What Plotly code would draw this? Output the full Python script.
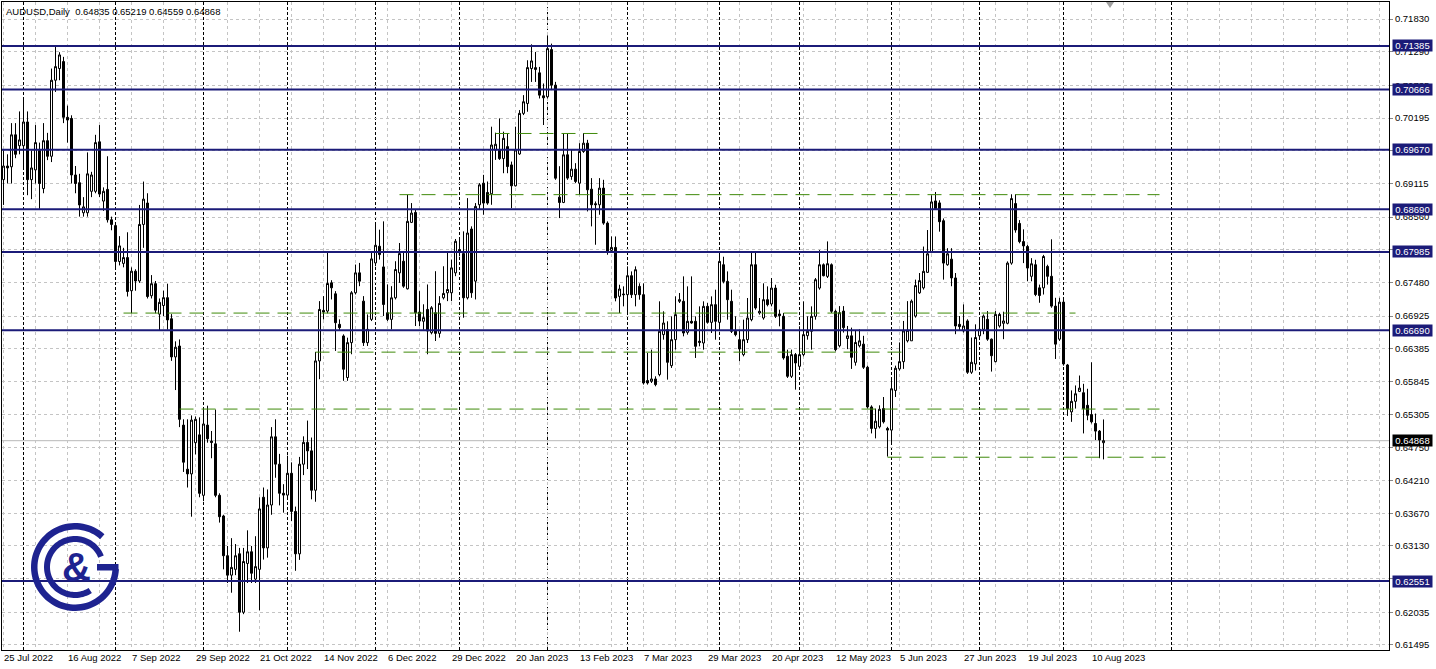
import numpy as np
import plotly.graph_objects as go

# ---------------- data ----------------
title_text = "AUDUSD,Daily\u00a0\u00a00.64835 0.65219 0.64559 0.64868"

date_labels = ["25 Jul 2022", "16 Aug 2022", "7 Sep 2022", "29 Sep 2022", "21 Oct 2022",
               "14 Nov 2022", "6 Dec 2022", "29 Dec 2022", "20 Jan 2023", "13 Feb 2023",
               "7 Mar 2023", "29 Mar 2023", "20 Apr 2023", "12 May 2023", "5 Jun 2023",
               "27 Jun 2023", "19 Jul 2023", "10 Aug 2023"]
date_label_bar = [0, 16, 32, 48, 64, 80, 96, 112, 128, 144, 160, 176, 192, 208, 224, 240, 256, 272]
month_start_bar = [5, 28, 50, 71, 93, 114, 136, 156, 179, 199, 222, 244, 265, 292]

opens = [
    0.69178, 0.69403, 0.69390, 0.69918, 0.69738, 0.69738, 0.70130, 0.69178, 0.69339, 0.69660,
    0.69030, 0.69821, 0.69564, 0.70819, 0.71012, 0.71127, 0.70207, 0.70188, 0.69255, 0.69127,
    0.68631, 0.68631, 0.68985, 0.68985, 0.69802, 0.68824, 0.69017, 0.68515, 0.68419, 0.67827,
    0.67795, 0.67891, 0.67344, 0.67666, 0.67505, 0.68438, 0.68792, 0.67261, 0.67460, 0.66958,
    0.67100, 0.67229, 0.66881, 0.66251, 0.66431, 0.65125, 0.64397, 0.64320, 0.64835, 0.64964,
    0.63966, 0.65125, 0.64860, 0.64816, 0.63966, 0.63625, 0.62969, 0.62648, 0.62744, 0.63001,
    0.62036, 0.62841, 0.63034, 0.62583, 0.62744, 0.63934, 0.63098, 0.63806, 0.64932, 0.64480,
    0.64000, 0.63970, 0.64330, 0.63700, 0.63000, 0.64480, 0.64840, 0.64700, 0.64050, 0.66185,
    0.67019, 0.67008, 0.67474, 0.67293, 0.66789, 0.66597, 0.65911, 0.66487, 0.67310, 0.67639,
    0.67172, 0.66487, 0.66871, 0.67803, 0.68078, 0.67737, 0.66980, 0.66871, 0.67227, 0.67639,
    0.67831, 0.67375, 0.68472, 0.68637, 0.66991, 0.66840, 0.67035, 0.66651, 0.66980, 0.66640,
    0.67227, 0.67310, 0.67310, 0.67639, 0.68023, 0.67957, 0.67227, 0.68363, 0.67502, 0.68763,
    0.69120, 0.68966, 0.68944, 0.69668, 0.69668, 0.69525, 0.69723, 0.69421, 0.69076, 0.69602,
    0.70272, 0.70436, 0.71012, 0.70996, 0.70941, 0.70562, 0.70546, 0.71325, 0.70738, 0.68889,
    0.68801, 0.69588, 0.69230, 0.69351, 0.69120, 0.69643, 0.69780, 0.69021, 0.68780, 0.68763,
    0.69038, 0.68460, 0.68010, 0.68059, 0.67251, 0.67290, 0.67279, 0.67592, 0.67279, 0.67416,
    0.67279, 0.65860, 0.65849, 0.65887, 0.65959, 0.66619, 0.66701, 0.66107, 0.66536, 0.67169,
    0.67169, 0.66657, 0.66839, 0.66839, 0.66509, 0.66481, 0.67086, 0.66822, 0.67114, 0.66822,
    0.67773, 0.67498, 0.67169, 0.66674, 0.66536, 0.66289, 0.66536, 0.66866, 0.67773, 0.66976,
    0.66894, 0.67196, 0.67125, 0.67388, 0.66960, 0.66921, 0.66261, 0.65931, 0.66289, 0.66096,
    0.66289, 0.66602, 0.66674, 0.66921, 0.67388, 0.67773, 0.67581, 0.67773, 0.67004, 0.66435,
    0.67008, 0.66555, 0.66599, 0.66162, 0.66435, 0.66462, 0.66080, 0.65425, 0.65070, 0.65097,
    0.65398, 0.65070, 0.65043, 0.65698, 0.66053, 0.66173, 0.66517, 0.66517, 0.66926, 0.67309,
    0.67391, 0.67647, 0.67975, 0.68826, 0.68794, 0.68499, 0.67773, 0.67865, 0.67555, 0.66789,
    0.66681, 0.66845, 0.65998, 0.66135, 0.66599, 0.66707, 0.66872, 0.66544, 0.66173, 0.66762,
    0.66806, 0.66806, 0.67800, 0.68783, 0.68455, 0.68155, 0.68073, 0.67582, 0.67773, 0.67391,
    0.67391, 0.67745, 0.67582, 0.67090, 0.66544, 0.67156, 0.66118, 0.65343, 0.65518, 0.65682,
    0.65660, 0.65452, 0.65299, 0.65152, 0.65026, 0.64835]

highs = [
    0.69660, 0.69596, 0.70111, 0.70111, 0.70304, 0.70497, 0.70304, 0.69660, 0.70079, 0.69789,
    0.70111, 0.69950, 0.71012, 0.71385, 0.71282, 0.71205, 0.70400, 0.70240, 0.69403, 0.69274,
    0.68889, 0.69628, 0.69307, 0.69918, 0.70079, 0.69050, 0.69564, 0.68567, 0.68438, 0.68245,
    0.68052, 0.68309, 0.67730, 0.67698, 0.68760, 0.69146, 0.68953, 0.67602, 0.67505, 0.67216,
    0.67344, 0.67460, 0.66958, 0.66508, 0.66540, 0.65221, 0.65221, 0.65285, 0.65266, 0.65253,
    0.65382, 0.65446, 0.65028, 0.65382, 0.63999, 0.63645, 0.63130, 0.63259, 0.63162, 0.63098,
    0.63098, 0.63388, 0.63130, 0.63291, 0.63934, 0.64095, 0.64063, 0.65092, 0.65221, 0.64650,
    0.64150, 0.64620, 0.64510, 0.63780, 0.64600, 0.64940, 0.65200, 0.64920, 0.66333, 0.67172,
    0.67255, 0.67979, 0.67518, 0.67337, 0.66871, 0.66624, 0.66569, 0.67337, 0.67776, 0.67803,
    0.67255, 0.66953, 0.67995, 0.68434, 0.68352, 0.68489, 0.67447, 0.67419, 0.67831, 0.68132,
    0.67995, 0.68928, 0.68791, 0.68681, 0.67337, 0.67120, 0.67447, 0.67090, 0.67666, 0.67255,
    0.67748, 0.67995, 0.67858, 0.68198, 0.68187, 0.68324, 0.68873, 0.68407, 0.68791, 0.69120,
    0.69257, 0.69147, 0.70052, 0.69953, 0.70189, 0.69970, 0.69942, 0.69476, 0.70052, 0.70326,
    0.70573, 0.71149, 0.71412, 0.71286, 0.71039, 0.70765, 0.71560, 0.71423, 0.70792, 0.69400,
    0.69945, 0.69945, 0.69670, 0.69450, 0.69780, 0.69945, 0.69835, 0.69203, 0.68818, 0.69203,
    0.69175, 0.68489, 0.68240, 0.68240, 0.67443, 0.67416, 0.67746, 0.67663, 0.67746, 0.67466,
    0.67466, 0.66316, 0.66371, 0.65931, 0.67169, 0.67004, 0.66839, 0.66921, 0.67251, 0.67306,
    0.67581, 0.67416, 0.67581, 0.66921, 0.67086, 0.67169, 0.67141, 0.67251, 0.67361, 0.67938,
    0.67905, 0.67663, 0.67361, 0.66921, 0.66701, 0.66866, 0.67224, 0.67988, 0.67988, 0.67224,
    0.67466, 0.67416, 0.67554, 0.67443, 0.67031, 0.66976, 0.66371, 0.66371, 0.66316, 0.66756,
    0.67169, 0.66921, 0.67086, 0.67554, 0.68015, 0.67795, 0.68158, 0.67795, 0.67031, 0.67090,
    0.67090, 0.66762, 0.66735, 0.66681, 0.66707, 0.66599, 0.66107, 0.65452, 0.65398, 0.65452,
    0.65589, 0.65097, 0.65889, 0.66107, 0.66490, 0.66845, 0.67172, 0.67199, 0.67527, 0.67636,
    0.68073, 0.68346, 0.68919, 0.68974, 0.68837, 0.68537, 0.68046, 0.68046, 0.67636, 0.66926,
    0.67118, 0.66872, 0.66571, 0.66789, 0.66872, 0.66953, 0.67008, 0.66555, 0.67008, 0.66981,
    0.66998, 0.67828, 0.68936, 0.68936, 0.68510, 0.68357, 0.68100, 0.67882, 0.67855, 0.67445,
    0.67936, 0.67773, 0.68193, 0.67227, 0.67227, 0.67199, 0.66135, 0.65698, 0.65780, 0.65944,
    0.65807, 0.65725, 0.66162, 0.65316, 0.65043, 0.65219]

lows = [
    0.68760, 0.69114, 0.69114, 0.69532, 0.69596, 0.69339, 0.68921, 0.68856, 0.69114, 0.68695,
    0.68953, 0.69500, 0.69468, 0.70626, 0.70819, 0.70111, 0.69789, 0.69114, 0.68953, 0.68567,
    0.68567, 0.68567, 0.68889, 0.68953, 0.68889, 0.68663, 0.68470, 0.68342, 0.67698, 0.67762,
    0.67730, 0.67248, 0.66971, 0.67344, 0.67473, 0.68052, 0.67216, 0.67216, 0.66971, 0.66688,
    0.66926, 0.66701, 0.66186, 0.65704, 0.65092, 0.64352, 0.64095, 0.63613, 0.64642, 0.63934,
    0.63870, 0.64835, 0.64578, 0.63934, 0.63516, 0.62744, 0.62519, 0.62358, 0.62648, 0.61714,
    0.62004, 0.62519, 0.62519, 0.62519, 0.62068, 0.62905, 0.62937, 0.63645, 0.64256, 0.63800,
    0.63680, 0.63900, 0.63540, 0.62720, 0.62900, 0.64300, 0.64400, 0.63900, 0.63860, 0.65883,
    0.66870, 0.66970, 0.67200, 0.66350, 0.66679, 0.65856, 0.65856, 0.66295, 0.67282, 0.67419,
    0.66432, 0.66432, 0.66843, 0.67748, 0.67858, 0.66926, 0.66843, 0.66706, 0.67200, 0.67474,
    0.67392, 0.67364, 0.68461, 0.66761, 0.66761, 0.66700, 0.66295, 0.66624, 0.66514, 0.66569,
    0.67200, 0.67172, 0.67172, 0.67584, 0.67913, 0.66898, 0.67200, 0.67227, 0.67200, 0.68681,
    0.68599, 0.68763, 0.68763, 0.69504, 0.69504, 0.69284, 0.69284, 0.68708, 0.69065, 0.69586,
    0.70244, 0.70299, 0.70791, 0.70791, 0.70518, 0.70080, 0.70518, 0.70656, 0.69175, 0.68543,
    0.68790, 0.69175, 0.69175, 0.69120, 0.68928, 0.69620, 0.68653, 0.68406, 0.68103, 0.68598,
    0.68433, 0.67938, 0.67988, 0.67169, 0.66976, 0.67086, 0.66976, 0.67224, 0.67086, 0.67196,
    0.65794, 0.65794, 0.65821, 0.65766, 0.65931, 0.66536, 0.65876, 0.66069, 0.66371, 0.67141,
    0.66591, 0.66619, 0.66800, 0.66234, 0.66426, 0.66371, 0.66800, 0.66646, 0.66536, 0.66674,
    0.67466, 0.66866, 0.66646, 0.66591, 0.66179, 0.66261, 0.66481, 0.66839, 0.67031, 0.66949,
    0.66866, 0.67086, 0.67086, 0.66894, 0.66756, 0.66206, 0.65904, 0.65904, 0.65711, 0.66069,
    0.66261, 0.66536, 0.66371, 0.66866, 0.67361, 0.67581, 0.67554, 0.66976, 0.66344, 0.66408,
    0.66653, 0.66380, 0.66053, 0.66107, 0.66408, 0.66053, 0.65398, 0.64988, 0.64906, 0.65070,
    0.65152, 0.64606, 0.64824, 0.65589, 0.66026, 0.66053, 0.66490, 0.66517, 0.66899, 0.67292,
    0.67363, 0.67636, 0.67964, 0.68690, 0.68319, 0.67527, 0.67756, 0.67418, 0.66626, 0.66681,
    0.66653, 0.65971, 0.65971, 0.66026, 0.66571, 0.66626, 0.66517, 0.66009, 0.66162, 0.66735,
    0.66544, 0.66789, 0.67773, 0.68302, 0.68127, 0.67800, 0.67500, 0.67500, 0.67254, 0.67145,
    0.67281, 0.67445, 0.67063, 0.66217, 0.66517, 0.66107, 0.65277, 0.65179, 0.65398, 0.65671,
    0.64988, 0.65206, 0.65152, 0.64879, 0.64579, 0.64559]

closes = [
    0.69403, 0.69371, 0.69918, 0.69596, 0.69834, 0.70130, 0.69178, 0.69371, 0.69789, 0.69114,
    0.69821, 0.69564, 0.70819, 0.71044, 0.71237, 0.70207, 0.70162, 0.69255, 0.69114, 0.68760,
    0.68728, 0.69274, 0.69255, 0.69789, 0.68940, 0.68985, 0.68515, 0.68438, 0.67827, 0.68084,
    0.67891, 0.67331, 0.67666, 0.67505, 0.68438, 0.68856, 0.67248, 0.67460, 0.67023, 0.67152,
    0.67229, 0.66862, 0.66251, 0.66411, 0.65221, 0.64513, 0.64320, 0.65208, 0.65221, 0.63999,
    0.65144, 0.64899, 0.64840, 0.63966, 0.63613, 0.62969, 0.62648, 0.62776, 0.62969, 0.62036,
    0.62873, 0.63034, 0.62680, 0.62789, 0.63741, 0.63098, 0.63806, 0.64932, 0.64481, 0.64000,
    0.63970, 0.64330, 0.63700, 0.63000, 0.64480, 0.64840, 0.64700, 0.64050, 0.66185, 0.67035,
    0.66992, 0.67463, 0.67392, 0.66816, 0.66734, 0.66048, 0.66487, 0.67310, 0.67639, 0.67502,
    0.66487, 0.66706, 0.67869, 0.68094, 0.67940, 0.67117, 0.66871, 0.67227, 0.67694, 0.67957,
    0.67419, 0.68489, 0.68626, 0.66980, 0.66843, 0.66900, 0.66679, 0.67063, 0.66640, 0.67134,
    0.67299, 0.67364, 0.67721, 0.68160, 0.67979, 0.67227, 0.68297, 0.67310, 0.68736, 0.69092,
    0.68791, 0.68791, 0.69750, 0.69762, 0.69525, 0.69860, 0.69394, 0.69076, 0.69668, 0.70272,
    0.70464, 0.71028, 0.71138, 0.71028, 0.70573, 0.70529, 0.71341, 0.70738, 0.69202, 0.68801,
    0.69588, 0.69203, 0.69351, 0.69148, 0.69643, 0.69780, 0.69010, 0.68763, 0.68765, 0.69038,
    0.68460, 0.67988, 0.68059, 0.67224, 0.67372, 0.67279, 0.67592, 0.67279, 0.67691, 0.67279,
    0.65821, 0.65821, 0.65887, 0.65794, 0.66674, 0.66811, 0.66162, 0.66536, 0.66949, 0.67196,
    0.66646, 0.66839, 0.66811, 0.66426, 0.66492, 0.67086, 0.66822, 0.67114, 0.66839, 0.67828,
    0.67498, 0.67196, 0.66674, 0.66619, 0.66382, 0.66536, 0.66894, 0.67773, 0.67059, 0.67004,
    0.67196, 0.67114, 0.67388, 0.66921, 0.66932, 0.66234, 0.65931, 0.66289, 0.66151, 0.66289,
    0.66619, 0.66674, 0.66921, 0.67526, 0.67773, 0.67592, 0.67790, 0.67004, 0.66371, 0.66981,
    0.66735, 0.66599, 0.66244, 0.66490, 0.66517, 0.66080, 0.65425, 0.65070, 0.65190, 0.65387,
    0.65179, 0.65043, 0.65725, 0.66064, 0.66173, 0.66681, 0.66691, 0.67172, 0.67429, 0.67511,
    0.67664, 0.67953, 0.68810, 0.68701, 0.68483, 0.67800, 0.67953, 0.67555, 0.66762, 0.66751,
    0.66762, 0.65998, 0.66162, 0.66571, 0.66707, 0.66926, 0.66544, 0.66271, 0.66953, 0.66953,
    0.66845, 0.67800, 0.68865, 0.68346, 0.68155, 0.68084, 0.67718, 0.67789, 0.67281, 0.67265,
    0.67909, 0.67582, 0.67090, 0.66462, 0.67156, 0.66135, 0.65398, 0.65518, 0.65643, 0.65736,
    0.65398, 0.65288, 0.65179, 0.65026, 0.64879, 0.64868]

level_prices = [0.71385, 0.70666, 0.69670, 0.68690, 0.67985, 0.66690, 0.62551]
current_price = 0.64868
price_ticks = [0.71830, 0.71290, 0.70735, 0.70195, 0.69655, 0.69115, 0.68560, 0.68020,
               0.67480, 0.66925, 0.66385, 0.65845, 0.65305, 0.64750, 0.64210, 0.63670,
               0.63130, 0.62590, 0.62035, 0.61495]
# tick labels fully covered by the level boxes in the reference
hidden_ticks = [0.69655, 0.68020, 0.62590]

# dashed trend levels: price, first bar, last bar
dash_level_price = [0.69940, 0.68930, 0.66975, 0.66330, 0.65390, 0.64595]
dash_level_start = [123, 99, 30, 78, 44, 221]
dash_level_end = [149, 289, 268, 226, 289, 291]

# ---------------- layout geometry ----------------
W, H = 1436, 669
ML, MR, MT, MB = 2, 47, 2, 19
PW, PH = W - ML - MR, H - MT - MB
Y_TOP, Y_BOT = 0.721107, 0.614123
X_LEFT = -0.375
X_RIGHT = X_LEFT + PW / 4.0

NAVY = "#1b1b78"
GREEN = "#3f8a0a"
GRID = "#c4c4c4"
FONT = "Liberation Sans"


def to_paper(px, py):
    return (px - ML) / PW, (H - MB - py) / PH


def ring_path(cx, cy, r1, r2, a0, a1, n=80):
    t = np.radians(np.linspace(a0, a1, n))
    outer = [(cx + r2 * np.cos(a), cy - r2 * np.sin(a)) for a in t]
    inner = [(cx + r1 * np.cos(a), cy - r1 * np.sin(a)) for a in t[::-1]]
    s = ""
    for k, (x, y) in enumerate(outer + inner):
        X, Y = to_paper(x, y)
        s += ("M" if k == 0 else "L") + f"{X:.5f},{Y:.5f} "
    return s + "Z"


def rect_path(x0, y0, x1, y1):
    pts = [(x0, y0), (x1, y0), (x1, y1), (x0, y1)]
    s = ""
    for k, (x, y) in enumerate(pts):
        X, Y = to_paper(x, y)
        s += ("M" if k == 0 else "L") + f"{X:.5f},{Y:.5f} "
    return s + "Z"


n = len(opens)
xs = list(range(n))

fig = go.Figure()
fig.add_trace(go.Candlestick(
    x=xs, open=opens, high=highs, low=lows, close=closes,
    increasing=dict(line=dict(color="black", width=1), fillcolor="white"),
    decreasing=dict(line=dict(color="black", width=1), fillcolor="black"),
    whiskerwidth=0, showlegend=False, hoverinfo="skip"))

shapes = []
for b in month_start_bar:
    shapes.append(dict(type="line", xref="x", yref="paper", x0=b, x1=b, y0=0, y1=1,
                       line=dict(color="black", width=1, dash="3px,2px"), layer="below"))
shapes.append(dict(type="line", xref="paper", yref="y", x0=0, x1=1,
                   y0=current_price, y1=current_price,
                   line=dict(color="#b8b8b8", width=1), layer="below"))
for p in level_prices:
    shapes.append(dict(type="line", xref="paper", yref="y", x0=0, x1=1, y0=p, y1=p,
                       line=dict(color=NAVY, width=2), layer="above"))
for p, a, b in zip(dash_level_price, dash_level_start, dash_level_end):
    shapes.append(dict(type="line", xref="x", yref="y", x0=a, x1=b, y0=p, y1=p,
                       line=dict(color=GREEN, width=1, dash="14px,8px"), layer="above"))

LOGO = "#1e2390"
shapes.append(dict(type="path", xref="paper", yref="paper",
                   path=ring_path(75, 567, 37.5, 44, 48, 357),
                   fillcolor=LOGO, line=dict(width=0), layer="above"))
shapes.append(dict(type="path", xref="paper", yref="paper",
                   path=rect_path(97, 564, 118.5, 570.5),
                   fillcolor=LOGO, line=dict(width=0), layer="above"))
shapes.append(dict(type="path", xref="paper", yref="paper",
                   path=ring_path(75, 567, 25, 31, 22, 303),
                   fillcolor=LOGO, line=dict(width=0), layer="above"))
tx0, ty0 = to_paper(1106, 2)
tx1, ty1 = to_paper(1114, 2)
tx2, ty2 = to_paper(1110, 8)
shapes.append(dict(type="path", xref="paper", yref="paper",
                   path=f"M{tx0:.5f},{ty0:.5f} L{tx1:.5f},{ty1:.5f} L{tx2:.5f},{ty2:.5f} Z",
                   fillcolor="#a0a0a0", line=dict(width=0), layer="above"))

annotations = []
annotations.append(dict(text=title_text, xref="paper", yref="paper", x=0, y=1,
                        xanchor="left", yanchor="top", xshift=3, yshift=-3, showarrow=False,
                        borderpad=0, font=dict(family=FONT, size=9.5, color="black")))
for b, t in zip(date_label_bar, date_labels):
    annotations.append(dict(text=t, xref="x", yref="paper", x=b, y=0, xanchor="left",
                            yanchor="top", xshift=-1, yshift=-1, showarrow=False, borderpad=0,
                            font=dict(family=FONT, size=9.5, color="black")))
for p in level_prices:
    annotations.append(dict(text=f"{p:.5f}", xref="paper", yref="y", x=1, y=p,
                            xanchor="left", yanchor="middle", xshift=3, showarrow=False,
                            bgcolor=NAVY, borderpad=0, width=39, height=11,
                            font=dict(family=FONT, size=9.5, color="white")))
annotations.append(dict(text=f"{current_price:.5f}", xref="paper", yref="y", x=1, y=current_price,
                        xanchor="left", yanchor="middle", xshift=3, showarrow=False,
                        bgcolor="black", borderpad=0, width=39, height=11,
                        font=dict(family=FONT, size=9.5, color="white")))
ax_, ay_ = to_paper(76, 567)
annotations.append(dict(text="<b>&</b>", xref="paper", yref="paper", x=ax_, y=ay_,
                        xanchor="center", yanchor="middle", showarrow=False,
                        font=dict(family=FONT, size=40, color=LOGO)))

tick_text = ["" if v in hidden_ticks else f"{v:.5f}" for v in price_ticks]

fig.update_layout(
    width=W, height=H,
    margin=dict(l=ML, r=MR, t=MT, b=MB, pad=0),
    paper_bgcolor="white", plot_bgcolor="white",
    showlegend=False,
    shapes=shapes, annotations=annotations,
    boxgap=0.5, boxgroupgap=0.0,
    xaxis=dict(range=[X_LEFT, X_RIGHT], tickmode="linear", tick0=0, dtick=8,
               showticklabels=False, ticks="", showgrid=True, gridcolor=GRID, gridwidth=1,
               griddash="3px,3px", zeroline=False, showline=True, linecolor="black",
               linewidth=1, mirror=True, rangeslider=dict(visible=False), fixedrange=True),
    yaxis=dict(range=[Y_BOT, Y_TOP], side="right", tickmode="array", tickvals=price_ticks,
               ticktext=tick_text, ticks="outside", ticklen=3,
               tickcolor="#888888", showgrid=True, gridcolor=GRID, gridwidth=1,
               griddash="3px,3px", zeroline=False, showline=True, linecolor="black",
               linewidth=1, mirror=True,
               tickfont=dict(family=FONT, size=9.5, color="black"), fixedrange=True),
    font=dict(family=FONT, size=9.5, color="black"),
)

fig.write_html("out.html",
               config={"displayModeBar": False, "staticPlot": True},
               post_script="document.body.style.margin='0px';document.body.style.padding='0px';")
